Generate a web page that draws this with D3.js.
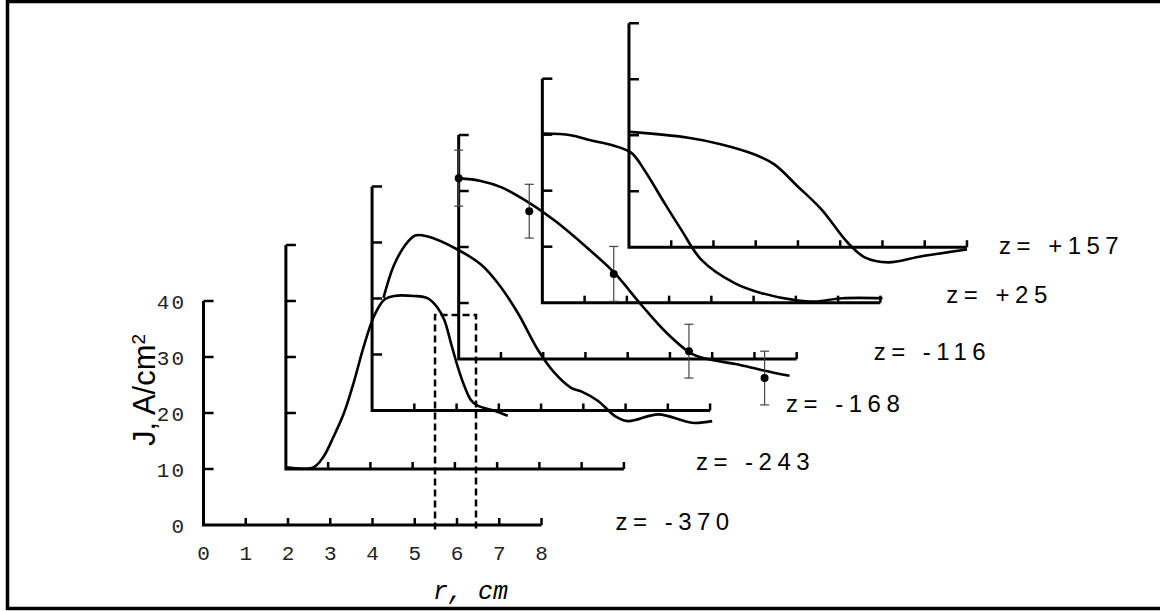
<!DOCTYPE html>
<html>
<head>
<meta charset="utf-8">
<script src="https://cdn.jsdelivr.net/npm/d3@7"></script>
<style>
  html, body { margin: 0; padding: 0; background: #fff; overflow: hidden; }
  text { font-family: "Liberation Sans", Arial, sans-serif; }
</style>
</head>
<body>
<script>
// one staggered frame per z position
const zLabels = ["z= -370", "z= -243", "z= -168", "z= -116", "z= +25", "z= +157"];
// origin of each frame, in units of the front (z=-370) axes
const frameR = [0, 1.95, 3.99, 6.04, 8.02, 10.07];
const frameJ = [0, 10.0, 20.45, 29.64, 39.7, 49.6];

const rTicks = [0, 1, 2, 3, 4, 5, 6, 7, 8];
const jTicks = [0, 10, 20, 30, 40];

// profiles, local r (cm) and J (A/cm2) of each frame
const r243 = [0, 0.65, 0.89, 1.13, 1.37, 1.60, 1.84, 2.08, 2.32, 2.56, 3.03, 3.35, 3.59, 3.75, 3.91, 4.07, 4.22, 4.38, 4.54, 4.94, 5.25];
const j243 = [0.3, 0.3, 2.2, 5.8, 9.9, 15.3, 21.8, 27.2, 30.2, 30.9, 30.9, 30.5, 28.8, 26.6, 22.4, 18.2, 14.9, 12.3, 11.3, 10.4, 9.5];

const r168 = [0.27, 0.51, 0.79, 1.02, 1.30, 2.02, 2.57, 2.97, 3.45, 3.92, 4.32, 4.71, 4.95, 5.35, 5.75, 6.06, 6.78, 7.57, 8.05];
const j168 = [20.1, 25.8, 29.6, 31.25, 31.1, 28.75, 26.1, 22.8, 17.4, 10.9, 6.7, 4.05, 3.4, 1.7, -1.0, -1.9, -0.7, -2.2, -1.9];

const r116 = [0, 0.52, 1.0, 1.67, 2.31, 3.02, 3.67, 4.33, 4.93, 5.52, 5.88, 6.55, 7.19, 7.83];
const j116 = [32.3, 31.8, 30.7, 27.9, 24.5, 20.0, 15.5, 9.6, 4.6, 0.9, 0, -0.9, -2.0, -3.0];

const r25 = [0.03, 0.67, 1.14, 1.62, 2.10, 2.41, 2.89, 3.29, 3.76, 4.55, 5.19, 6.06, 6.46, 7.10, 8.05];
const j25 = [30.2, 29.9, 29.0, 28.2, 26.8, 23.75, 17.8, 13.0, 7.7, 3.5, 1.7, 0.36, 0.2, 0.8, 0.8];

const r157 = [0.02, 1.37, 2.17, 2.96, 3.44, 3.99, 4.55, 5.18, 5.58, 6.14, 6.93, 8.0];
const j157 = [20.6, 19.6, 18.4, 16.6, 14.8, 10.9, 6.8, 0.8, -1.8, -2.7, -1.6, -0.4];

// measured points with error bars, z=-116
const rPts116 = [0, 1.67, 3.67, 5.45, 7.24];
const jPts116 = [32.3, 26.4, 15.2, 1.4, -3.4];
const errPts116 = [5.0, 4.8, 4.9, 4.8, 4.8];

// dashed band on the front frame (z=-370)
const bandR = [5.48, 6.45];
const bandJ = 37.5;

const profiles = [
  { frame: 1, r: r243, j: j243 },
  { frame: 2, r: r168, j: j168 },
  { frame: 3, r: r116, j: j116 },
  { frame: 4, r: r25, j: j25 },
  { frame: 5, r: r157, j: j157 }
];

// layout
const W = 1160, H = 611;
const labelDx = [74, 72, 76, 77, 66, 32];   // px gap after each frame's r axis
const labelDy = [5, 1, 2, 1, 0, 7];

const svg = d3.select("body").append("svg")
  .attr("width", W).attr("height", H)
  .attr("viewBox", `0 0 ${W} ${H}`);

svg.append("rect").attr("width", W).attr("height", H).attr("fill", "#fff");
svg.append("rect")
  .attr("x", 7.5).attr("y", 1.5).attr("width", W).attr("height", 607)
  .attr("fill", "none").attr("stroke", "#000").attr("stroke-width", 3.5);

const x = d3.scaleLinear().domain([0, 8]).range([203.5, 541.5]);
const y = d3.scaleLinear().domain([0, 40]).range([525, 301]);

const px = (k, r) => x(frameR[k] + r);
const py = (k, j) => y(frameJ[k] + j);

// axes of every frame
const frames = d3.range(zLabels.length);
const axes = svg.append("g").attr("stroke", "#000").attr("fill", "none");

frames.forEach(k => {
  const g = axes.append("g");
  g.append("path")
    .attr("d", `M${px(k, 0)},${py(k, 40)}V${py(k, 0)}H${px(k, 8)}`)
    .attr("stroke-width", 3);
  g.selectAll("line.xt").data(rTicks.slice(1)).join("line")
    .attr("x1", d => px(k, d)).attr("x2", d => px(k, d))
    .attr("y1", py(k, 0)).attr("y2", py(k, 0) - 7)
    .attr("stroke-width", 2.5);
  g.selectAll("line.yt").data(jTicks.slice(1)).join("line")
    .attr("x1", px(k, 0)).attr("x2", px(k, 0) + 10)
    .attr("y1", d => py(k, d)).attr("y2", d => py(k, d))
    .attr("stroke-width", 2.5);
});

// tick labels on the front frame
const mono = '"Liberation Mono", "DejaVu Sans Mono", monospace';
svg.append("g").selectAll("text").data(rTicks).join("text")
  .attr("x", d => x(d)).attr("y", 560)
  .attr("text-anchor", "middle")
  .style("font-family", mono).style("font-size", "21px").attr("fill", "#222")
  .text(d => d);
svg.append("g").selectAll("text").data(jTicks).join("text")
  .attr("x", 186).attr("y", d => y(d))
  .attr("dy", "0.36em")
  .attr("text-anchor", "end")
  .style("font-family", mono).style("font-size", "21px")
  .style("letter-spacing", "2px").attr("fill", "#222")
  .text(d => d);

svg.append("text")
  .attr("x", 433).attr("y", 599)
  .style("font-family", mono).style("font-size", "25px").style("font-style", "italic")
  .text("r, cm");

const yTitle = svg.append("text")
  .attr("transform", "translate(155,390) rotate(-90)")
  .attr("text-anchor", "middle")
  .style("font-size", "31px");
yTitle.append("tspan").text("J, A/cm");
yTitle.append("tspan").attr("dy", "-0.55em").style("font-size", "19px").text("2");

// z labels
svg.append("g").selectAll("text").data(zLabels).join("text")
  .attr("x", (d, k) => px(k, 8) + labelDx[k])
  .attr("y", (d, k) => py(k, 0) + labelDy[k])
  .style("font-size", "24px").style("letter-spacing", "5.5px")
  .text(d => d);

// dashed band
const band = svg.append("g").attr("stroke", "#000").attr("fill", "none")
  .attr("stroke-width", 2.5).attr("stroke-dasharray", "7,4");
band.append("path")
  .attr("d", `M${px(0, bandR[0])},${py(0, -0.8)}V${py(0, bandJ)}H${px(0, bandR[1])}V${py(0, -0.8)}`);

// profile curves
const line = d3.line().curve(d3.curveCatmullRom.alpha(0.5));
svg.append("g").selectAll("path").data(profiles).join("path")
  .attr("d", p => line(p.r.map((r, i) => [px(p.frame, r), py(p.frame, p.j[i])])))
  .attr("fill", "none").attr("stroke", "#000").attr("stroke-width", 2.6)
  .attr("stroke-linejoin", "round");

// error bars and points at z=-116
const pts = rPts116.map((r, i) => ({ r, j: jPts116[i], e: errPts116[i] }));
const eb = svg.append("g").attr("stroke", "#444").attr("stroke-width", 1.2);
eb.selectAll("line.v").data(pts).join("line")
  .attr("x1", d => px(3, d.r)).attr("x2", d => px(3, d.r))
  .attr("y1", d => py(3, d.j - d.e)).attr("y2", d => py(3, d.j + d.e));
eb.selectAll("line.t").data(pts).join("line")
  .attr("x1", d => px(3, d.r) - 4.5).attr("x2", d => px(3, d.r) + 4.5)
  .attr("y1", d => py(3, d.j + d.e)).attr("y2", d => py(3, d.j + d.e));
eb.selectAll("line.b").data(pts).join("line")
  .attr("x1", d => px(3, d.r) - 4.5).attr("x2", d => px(3, d.r) + 4.5)
  .attr("y1", d => py(3, d.j - d.e)).attr("y2", d => py(3, d.j - d.e));
svg.append("g").selectAll("circle").data(pts).join("circle")
  .attr("cx", d => px(3, d.r)).attr("cy", d => py(3, d.j))
  .attr("r", 4).attr("fill", "#000");
</script>
</body>
</html>
